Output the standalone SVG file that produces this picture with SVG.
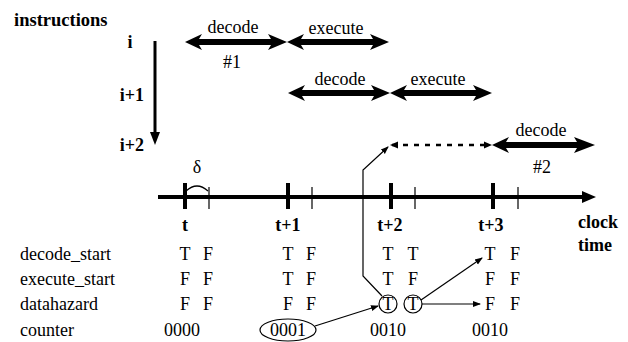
<svg xmlns="http://www.w3.org/2000/svg" width="628" height="342" viewBox="0 0 628 342" font-family="'Liberation Serif','Times New Roman',serif">
<defs>
<style>
text{font-family:"Liberation Serif","Times New Roman",serif;font-size:18px;fill:#000}
.b{font-weight:bold}
.m{text-anchor:middle}
.thin{stroke:#000;stroke-width:1.2;fill:none}
.thk{stroke:#000;stroke-width:4;fill:none}
.dbl{fill:#000}
</style>
<marker id="sm" markerWidth="8" markerHeight="8" refX="7" refY="4" orient="auto" markerUnits="userSpaceOnUse">
<path d="M0,1 L8,4 L0,7 Z" fill="#000"/>
</marker>
</defs>
<rect width="628" height="342" fill="#fff"/>

<g id="instr-axis">
<text class="b" x="14" y="26" style="font-size:18.5px">instructions</text>
<text class="b m" x="130" y="48">i</text>
<text class="b m" x="132" y="101">i+1</text>
<text class="b m" x="132" y="151">i+2</text>
<line x1="155" y1="41" x2="155" y2="134" stroke="#000" stroke-width="3"/>
<path d="M150,132 L160,132 L155,145 Z" fill="#000"/>
</g>

<g id="i-decode">
<path class="dbl" d="M185,42 L202,34 L199,39 L271,39 L268,34 L287,42 L268,50 L271,45 L199,45 L202,50 Z"/>
<text class="m" x="233" y="33">decode</text>
<text class="m" x="232" y="68">#1</text>
</g>
<g id="i-execute">
<path class="dbl" d="M287,42 L304,34 L301,39 L373,39 L370,34 L389,42 L370,50 L373,45 L301,45 L304,50 Z"/>
<text class="m" x="336" y="34">execute</text>
</g>
<g id="i1-decode">
<path class="dbl" d="M288,93 L305,85 L302,90 L374,90 L371,85 L390,93 L371,101 L374,96 L302,96 L305,101 Z"/>
<text class="m" x="340" y="85">decode</text>
</g>
<g id="i1-execute">
<path class="dbl" d="M390,93 L407,85 L404,90 L476,90 L473,85 L492,93 L473,101 L476,96 L404,96 L407,101 Z"/>
<text class="m" x="438" y="85">execute</text>
</g>
<g id="i2-decode">
<path class="dbl" d="M492,145 L509,137 L506,142 L577,142 L574,137 L595,145 L574,153 L577,148 L506,148 L509,153 Z"/>
<text class="m" x="541" y="136">decode</text>
<text class="m" x="542" y="173">#2</text>
</g>

<g id="timeline">
<line x1="158" y1="197" x2="584" y2="197" stroke="#000" stroke-width="4"/>
<path d="M582,191 L596,197 L582,203 Z" fill="#000"/>
<line class="thk" x1="185" y1="183" x2="185" y2="209"/>
<line class="thk" x1="288" y1="183" x2="288" y2="209"/>
<line class="thk" x1="391" y1="183" x2="391" y2="209"/>
<line class="thk" x1="493" y1="183" x2="493" y2="209"/>
<line class="thin" x1="209" y1="187" x2="209" y2="209"/>
<line class="thin" x1="312" y1="187" x2="312" y2="209"/>
<line class="thin" x1="415" y1="187" x2="415" y2="209"/>
<line class="thin" x1="518" y1="187" x2="518" y2="209"/>
<path class="thin" d="M186,191 Q197,181 208,191"/>
<text class="m" x="197" y="173">δ</text>
<text class="b m" x="185" y="231">t</text>
<text class="b m" x="288" y="231">t+1</text>
<text class="b m" x="390" y="231">t+2</text>
<text class="b m" x="491" y="231">t+3</text>
<text class="b" x="578" y="228">clock</text>
<text class="b" x="578" y="251">time</text>
</g>

<g id="signal-names">
<text x="20" y="260">decode_start</text>
<text x="20" y="285">execute_start</text>
<text x="20" y="310">datahazard</text>
<text x="20" y="336">counter</text>
</g>

<g id="values-t">
<text class="m" x="185" y="260">T</text><text class="m" x="208" y="260">F</text>
<text class="m" x="185" y="285">F</text><text class="m" x="208" y="285">F</text>
<text class="m" x="185" y="310">F</text><text class="m" x="208" y="310">F</text>
<text class="m" x="182" y="336">0000</text>
</g>
<g id="values-t1">
<text class="m" x="288" y="260">T</text><text class="m" x="311" y="260">F</text>
<text class="m" x="288" y="285">T</text><text class="m" x="311" y="285">F</text>
<text class="m" x="288" y="310">F</text><text class="m" x="311" y="310">F</text>
<ellipse class="thin" cx="288" cy="330" rx="28" ry="11"/>
<text class="m" x="288" y="336">0001</text>
</g>
<g id="values-t2">
<text class="m" x="388" y="260">T</text><text class="m" x="413" y="260">T</text>
<text class="m" x="388" y="285">T</text><text class="m" x="413" y="285">F</text>
<circle class="thin" cx="388" cy="304" r="9"/>
<circle class="thin" cx="413" cy="304" r="9"/>
<text class="m" x="388" y="310">T</text><text class="m" x="413" y="310">T</text>
<text class="m" x="388" y="336">0010</text>
</g>
<g id="values-t3">
<text class="m" x="490" y="260">T</text><text class="m" x="515" y="260">F</text>
<text class="m" x="490" y="285">F</text><text class="m" x="515" y="285">F</text>
<text class="m" x="490" y="310">F</text><text class="m" x="515" y="310">F</text>
<text class="m" x="490" y="336">0010</text>
</g>

<g id="connectors">
<line x1="392" y1="145" x2="490" y2="145" stroke="#000" stroke-width="2.5" stroke-dasharray="5,6"/>
<path d="M390,145 L398,141.5 L398,148.5 Z" fill="#000"/>
<path d="M492,145 L484,141.5 L484,148.5 Z" fill="#000"/>
<polyline class="thin" points="382,296 363,276 363,170 388,147" marker-end="url(#sm)"/>
<line class="thin" x1="315" y1="326" x2="378" y2="306" marker-end="url(#sm)"/>
<line class="thin" x1="421" y1="300" x2="482" y2="258" marker-end="url(#sm)"/>
<line class="thin" x1="422" y1="304" x2="480" y2="304" marker-end="url(#sm)"/>
</g>
</svg>
